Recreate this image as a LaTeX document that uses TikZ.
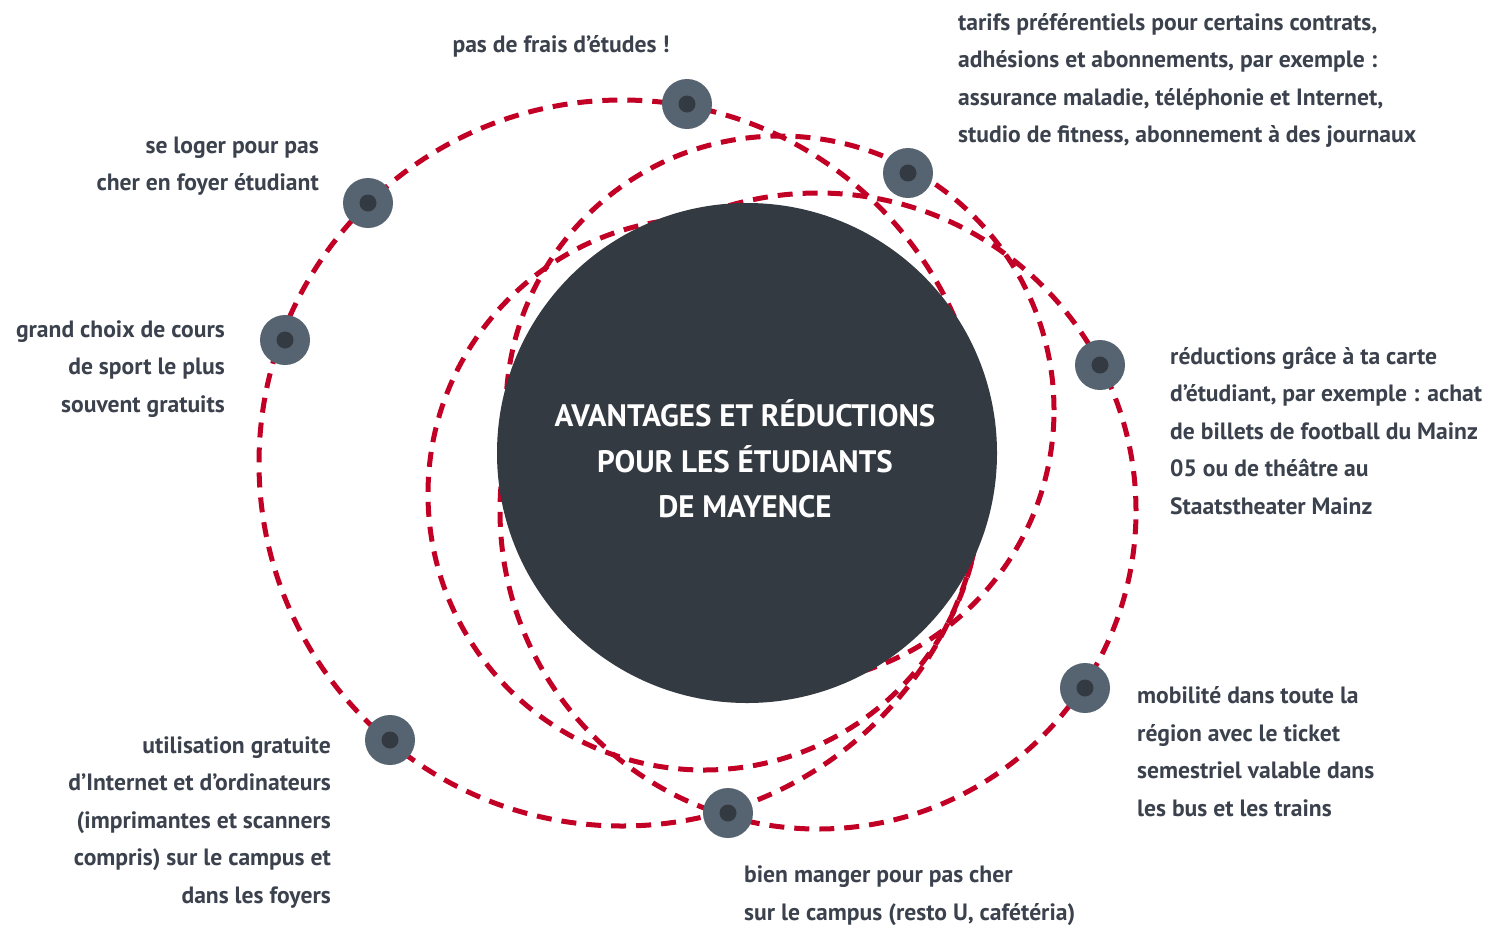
\documentclass[tikz,border=0pt]{standalone}
\usepackage{fontspec}
\setmainfont{PT Sans}
\definecolor{orbitred}{RGB}{194,0,38}
\definecolor{hub}{RGB}{52,58,66}
\definecolor{dotouter}{RGB}{86,99,112}
\definecolor{txt}{RGB}{59,66,77}
\tikzset{
  orbit/.style={draw=orbitred, line width=5pt, dash pattern=on 15pt off 10pt},
  planet/.style={circle, fill=dotouter, minimum size=50pt, inner sep=0pt,
    path picture={\fill[hub] (path picture bounding box.center) circle[radius=8.5pt];}},
  label/.style={text=txt, font=\bfseries\fontsize{23.6}{37.5}\selectfont, inner sep=0pt},
  title/.style={text=white, font=\bfseries\fontsize{31}{45.5}\selectfont, inner sep=0pt, align=center}
}
\begin{document}
\begin{tikzpicture}[x=1pt,y=-1pt]
\useasboundingbox[fill=white] (0,0) rectangle (1490,924);
% orbits
\draw[orbit] (622,463) circle[radius=363pt];
\draw[orbit] (818,511) circle[radius=318pt];
\draw[orbit] (780,410) circle[radius=274pt];
\draw[orbit] (704,494) circle[radius=276pt];
% hub
\node[circle, fill=hub, minimum size=500pt, inner sep=0pt] (hub) at (747,453) {};
\node[title] (t) at (745,459) {AVANTAGES ET RÉDUCTIONS\\POUR LES ÉTUDIANTS\\DE MAYENCE};
% planets
\node[planet] (p1) at (687,104) {};
\node[planet] (p2) at (908,173) {};
\node[planet] (p3) at (368,203) {};
\node[planet] (p4) at (285,340) {};
\node[planet] (p5) at (1100,365) {};
\node[planet] (p6) at (1085,688) {};
\node[planet] (p7) at (390,740) {};
\node[planet] (p8) at (728,813) {};
% labels
\node[label, anchor=center] (l1) at (561,46) {pas de frais d’études !};
\node[label, anchor=west, align=left] (l2) at (958,80.5) {tarifs préférentiels pour certains contrats,\\adhésions et abonnements, par exemple :\\assurance maladie, téléphonie et Internet,\\studio de fitness, abonnement à des journaux};
\node[label, anchor=east, align=right] (l3) at (319,166) {se loger pour pas\\cher en foyer étudiant};
\node[label, anchor=east, align=right] (l4) at (225,369) {grand choix de cours\\de sport le plus\\souvent gratuits};
\node[label, anchor=west, align=left] (l5) at (1170,431) {réductions grâce à ta carte\\d’étudiant, par exemple : achat\\de billets de football du Mainz\\05 ou de théâtre au\\Staatstheater Mainz};
\node[label, anchor=west, align=left] (l6) at (1137,751.5) {mobilité dans toute la\\région avec le ticket\\semestriel valable dans\\les bus et les trains};
\node[label, anchor=east, align=right] (l7) at (331,822.5) {utilisation gratuite\\d’Internet et d’ordinateurs\\(imprimantes et scanners\\compris) sur le campus et\\dans les foyers};
\node[label, anchor=west, align=left] (l8) at (744,895.5) {bien manger pour pas cher\\sur le campus (resto U, cafétéria)};
\end{tikzpicture}
\end{document}
